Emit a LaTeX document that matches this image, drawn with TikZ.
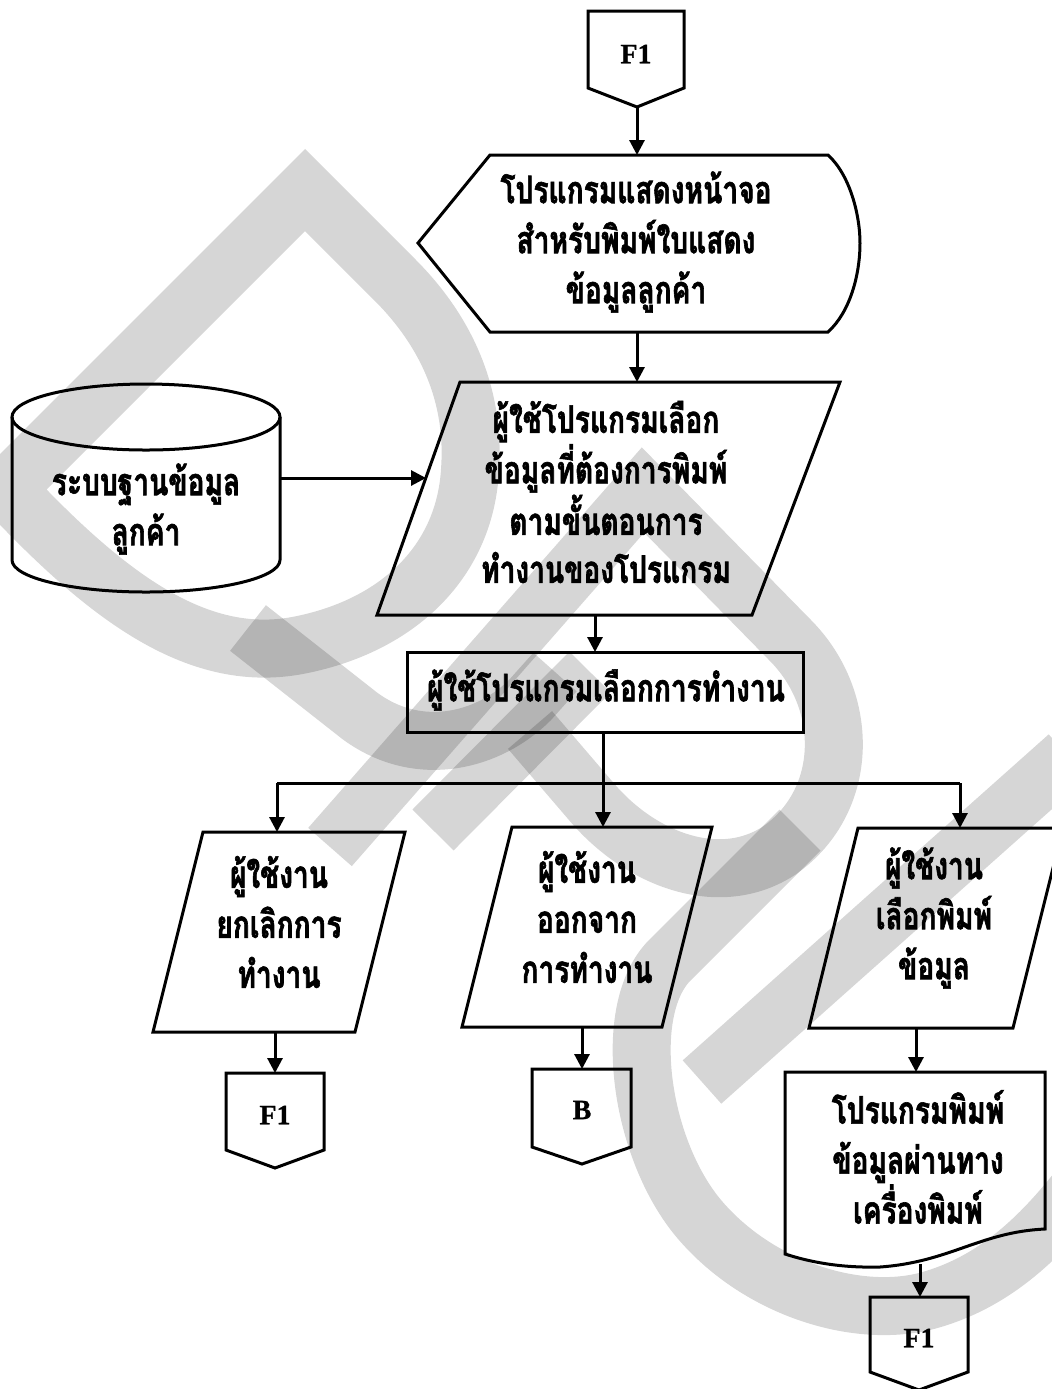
\documentclass[tikz,border=0pt]{standalone}
\usepackage{fontspec}
\usetikzlibrary{arrows.meta}
\setmainfont{Liberation Serif}
\newfontfamily\thaifont[Script=Thai,FakeStretch=0.74,FakeBold=1.6]{Loma}
\newfontfamily\conFont[FakeBold=0.8]{Liberation Serif}
\tikzset{
  shp/.style={draw=black, line width=1.5pt, line join=miter},
  arr/.style={draw=black, line width=1.5pt, -{Triangle[length=7.5pt,width=7.5pt]}},
  ln/.style={draw=black, line width=1.5pt},
  th/.style={font=\thaifont\bfseries\fontsize{19}{25}\selectfont, align=center, inner sep=0pt},
  lat/.style={font=\conFont\bfseries\fontsize{14}{16}\selectfont, inner sep=0pt},
  wm/.style={draw=black, draw opacity=0.16, line width=29pt, line join=miter, line cap=butt}
}
\begin{document}
\begin{tikzpicture}[x=0.5pt,y=-0.5pt]
\useasboundingbox (0,0) rectangle (1052,1389);
% watermark
\draw[wm] (305,190) -- (395,280) .. controls (450,335) and (475,400) .. (470,470) .. controls (465,560) and (400,625) .. (300,645) .. controls (200,665) and (110,600) .. (6,489) -- cycle;
\draw[wm] (330,847) -- (643,490) -- (790,640) .. controls (850,700) and (850,800) .. (780,850) .. controls (720,890) and (640,860) .. (590,800) -- (530,730);
\draw[wm] (248,628) -- (360,716) .. controls (420,760) and (490,740) .. (530,700) -- (555,672);
\draw[wm] (433,830) -- (590,672);
\draw[wm] (800,830) -- (670,960) .. controls (620,1010) and (640,1150) .. (700,1220) .. controls (760,1290) and (860,1320) .. (930,1300) .. controls (1000,1280) and (1050,1230) .. (1100,1160);
\draw[wm] (1068,756) -- (702,1082);

% top F1 connector
\draw[shp] (588,11) -- (684,11) -- (684,88) -- (637,107) -- (588,88) -- cycle;
\node[lat] (f1a) at (636,54) {F1};
\coordinate (f1a-b) at (637,107);

% display
\draw[shp] (418,243) -- (490,155) -- (828,155) .. controls (850,175) and (860,215) .. (860,243) .. controls (860,275) and (850,312) .. (828,332) -- (490,332) -- cycle;
\node[th] (disp) at (636,242) {โปรแกรมแสดงหน้าจอ\\สำหรับพิมพ์ใบแสดง\\ข้อมูลลูกค้า};
\coordinate (disp-t) at (637,155);
\coordinate (disp-b) at (637,332);

% parallelogram 1
\draw[shp] (460,382) -- (840,382) -- (752,615) -- (377,615) -- cycle;
\node[th, font=\thaifont\bfseries\fontsize{19}{24}\selectfont] (sel) at (606,492) {ผู้ใช้โปรแกรมเลือก\\ข้อมูลที่ต้องการพิมพ์\\ตามขั้นตอนการ\\ทำงานของโปรแกรม};
\coordinate (sel-t) at (637,382);
\coordinate (sel-l) at (426,478);
\coordinate (sel-b) at (595,615);

% cylinder
\draw[shp] (12,417) -- (12,560) arc[start angle=180, end angle=360, x radius=134, y radius=-32] -- (280,417);
\draw[shp] (146,417) ellipse[x radius=134, y radius=33];
\node[th] (db) at (146,509) {ระบบฐานข้อมูล\\ลูกค้า};
\coordinate (db-r) at (280,478);

% rectangle
\draw[shp] (407,652) rectangle (803,732);
\node[th] (op) at (606,690) {ผู้ใช้โปรแกรมเลือกการทำงาน};
\coordinate (op-t) at (595,652);
\coordinate (op-b) at (603,732);

% branch
\coordinate (br) at (603,783);
\coordinate (brl) at (277,783);
\coordinate (brr) at (960,783);

% left parallelogram
\draw[shp] (203,832) -- (405,832) -- (355,1032) -- (153,1032) -- cycle;
\node[th] (cancel) at (279,922) {ผู้ใช้งาน\\ยกเลิกการ\\ทำงาน};
\coordinate (cancel-t) at (277,832);
\coordinate (cancel-b) at (275,1032);

% middle parallelogram
\draw[shp] (512,827) -- (712,827) -- (662,1027) -- (462,1027) -- cycle;
\node[th] (exit) at (587,917) {ผู้ใช้งาน\\ออกจาก\\การทำงาน};
\coordinate (exit-t) at (603,827);
\coordinate (exit-b) at (582,1027);

% right parallelogram
\draw[shp] (858,828) -- (1063,828) -- (1013,1028) -- (809,1028) -- cycle;
\node[th] (choose) at (934,918) {ผู้ใช้งาน\\เลือกพิมพ์\\ข้อมูล};
\coordinate (choose-t) at (960,828);
\coordinate (choose-b) at (916,1028);

% left F1
\draw[shp] (226,1073) -- (324,1073) -- (324,1150) -- (275,1168) -- (226,1150) -- cycle;
\node[lat] (f1b) at (275,1115) {F1};
\coordinate (f1b-t) at (275,1073);

% B
\draw[shp] (532,1069) -- (631,1069) -- (631,1147) -- (582,1164) -- (532,1147) -- cycle;
\node[lat] (bcon) at (582,1110) {B};
\coordinate (bcon-t) at (582,1069);

% document
\draw[shp] (785,1254) -- (785,1072) -- (1045,1072) -- (1045,1229) .. controls (980,1232) and (950,1262) .. (880,1267) .. controls (840,1268) and (810,1262) .. (785,1254) -- cycle;
\node[th] (print) at (918,1157) {โปรแกรมพิมพ์\\ข้อมูลผ่านทาง\\เครื่องพิมพ์};
\coordinate (print-t) at (916,1072);
\coordinate (print-b) at (920,1264);

% bottom F1
\draw[shp] (870,1297) -- (968,1297) -- (968,1372) -- (919,1390) -- (870,1372) -- cycle;
\node[lat] (f1c) at (919,1338) {F1};
\coordinate (f1c-t) at (920,1297);

% connectors
\draw[arr] (f1a-b) -- (disp-t);
\draw[arr] (disp-b) -- (sel-t);
\draw[arr] (db-r) -- (sel-l);
\draw[arr] (sel-b) -- (op-t);
\draw[ln] (op-b) -- (br);
\draw[ln] (brl) -- (brr);
\draw[arr] (brl) -- (cancel-t);
\draw[arr] (br) -- (exit-t);
\draw[arr] (brr) -- (choose-t);
\draw[arr] (cancel-b) -- (f1b-t);
\draw[arr] (exit-b) -- (bcon-t);
\draw[arr] (choose-b) -- (print-t);
\draw[arr] (print-b) -- (f1c-t);
\end{tikzpicture}
\end{document}
